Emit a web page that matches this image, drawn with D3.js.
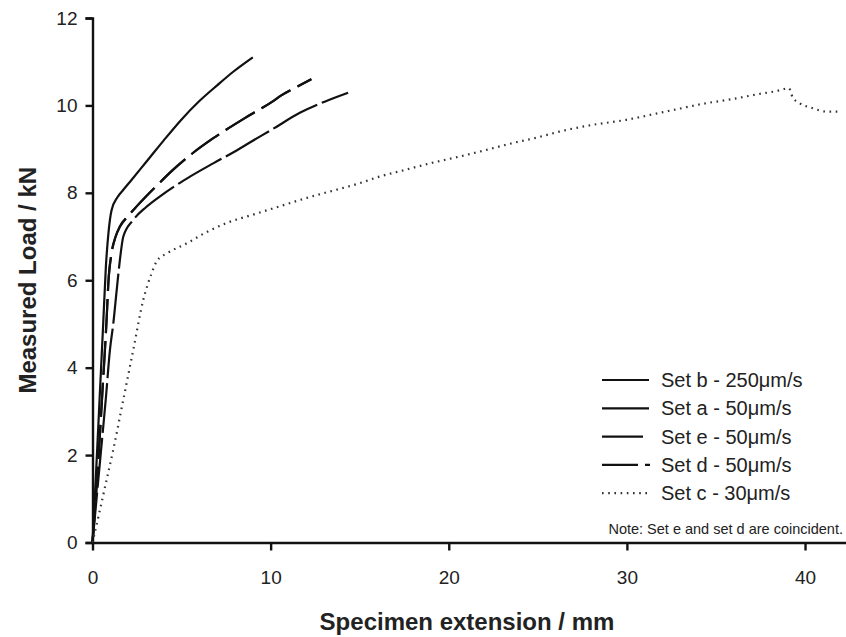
<!DOCTYPE html>
<html>
<head>
<meta charset="utf-8">
<script src="https://cdn.jsdelivr.net/npm/d3@7"></script>
<style>
  html, body { margin: 0; padding: 0; background: #fff; }
  svg { display: block; font-family: "Liberation Sans", Arial, sans-serif; }
</style>
</head>
<body>
<svg id="chart" width="846" height="637"></svg>
<script>
// Load–extension records (extension in mm, load in kN)
const extB  = [0, 0.2, 0.4, 0.6, 0.75, 0.9, 1.07, 1.4, 1.73, 2.2, 3.0, 3.5, 4.0, 5.0, 6.0, 7.0, 7.9, 9.0];
const loadB = [0, 1.6, 3.3, 5.0, 6.3, 7.1, 7.6, 7.9, 8.07, 8.3, 8.7, 8.95, 9.2, 9.68, 10.1, 10.46, 10.77, 11.1];

const extA  = [0, 0.25, 0.5, 0.75, 0.98, 1.17, 1.36, 1.54, 1.73, 2.29, 3.0, 3.79, 4.6, 5.47, 6.8, 8.09, 8.83, 10.2, 11.64, 13.0, 14.35];
const loadA = [0, 1.1, 2.2, 3.3, 4.41, 5.02, 5.78, 6.47, 7.0, 7.38, 7.67, 7.92, 8.15, 8.37, 8.68, 8.97, 9.15, 9.48, 9.83, 10.08, 10.29];

const extD  = [0, 0.3, 0.55, 0.8, 0.89, 1.07, 1.3, 1.54, 2.0, 2.48, 3.5, 4.53, 5.6, 6.78, 8.55, 10.14, 10.6, 11.5, 12.29];
const loadD = [0, 1.7, 3.4, 5.17, 5.94, 6.62, 7.0, 7.23, 7.47, 7.69, 8.12, 8.53, 8.9, 9.25, 9.71, 10.1, 10.23, 10.43, 10.6];

// Set e coincides with set d
const extE  = extD.slice();
const loadE = loadD.slice();

const extC  = [0, 0.42, 0.8, 1.17, 1.73, 2.29, 2.85, 3.32, 3.6, 4.2, 5.28, 6.3, 7.53, 9.0, 10.5, 12.0, 13.5, 15.0, 16.1, 17.5, 19.0, 20.6, 22.0, 23.5, 25.0, 26.2, 28.0, 29.96, 31.5, 33.0, 34.45, 36.0, 37.4, 38.3, 39.1, 39.3, 39.7, 40.4, 41.2, 41.9];
const loadC = [0, 0.75, 1.45, 2.13, 3.27, 4.41, 5.55, 6.16, 6.43, 6.62, 6.84, 7.08, 7.31, 7.5, 7.69, 7.88, 8.05, 8.22, 8.37, 8.52, 8.68, 8.83, 8.97, 9.13, 9.27, 9.4, 9.55, 9.67, 9.8, 9.93, 10.05, 10.15, 10.26, 10.32, 10.39, 10.19, 10.05, 9.94, 9.86, 9.86];

const legendLabels = ["Set b - 250\u03bcm/s", "Set a - 50\u03bcm/s", "Set e - 50\u03bcm/s", "Set d - 50\u03bcm/s", "Set c - 30\u03bcm/s"];
const xTicks = [0, 10, 20, 30, 40];
const yTicks = [0, 2, 4, 6, 8, 10, 12];
const xTitle = "Specimen extension / mm";
const yTitle = "Measured Load / kN";
const noteText = "Note: Set e and set d are coincident.";

const zip = (xs, ys) => xs.map((x, i) => ({ x, y: ys[i] }));

const series = [
  { key: "e", pts: zip(extE, loadE), dash: "34,8", width: 2.2 },
  { key: "d", pts: zip(extD, loadD), dash: "34,8", width: 2.2 },
  { key: "a", pts: zip(extA, loadA), dash: "50,5", width: 2.2 },
  { key: "b", pts: zip(extB, loadB), dash: null,   width: 2.2 },
  { key: "c", pts: zip(extC, loadC), dash: "1.6,4.6", width: 2.2, color: "#333" }
];

const svg = d3.select("#chart");
const x = d3.scaleLinear().domain([0, 42.3]).range([92.5, 846]);
const y = d3.scaleLinear().domain([0, 12]).range([542.5, 18]);

// Axes
const xAxis = svg.append("g")
  .attr("transform", `translate(0,${y(0)})`)
  .call(d3.axisBottom(x).tickValues(xTicks).tickSize(8).tickSizeOuter(0).tickPadding(20));
const yAxis = svg.append("g")
  .attr("transform", `translate(${x(0)},0)`)
  .call(d3.axisLeft(y).tickValues(yTicks).tickSize(7).tickSizeOuter(7).tickPadding(8));

[xAxis, yAxis].forEach(g => {
  g.select(".domain").attr("stroke", "#111").attr("stroke-width", 2.4);
  g.selectAll(".tick line").attr("stroke", "#111").attr("stroke-width", 2.4);
  g.selectAll(".tick text").attr("fill", "#222").style("font-size", "19px").style("font-family", "Liberation Sans, Arial, sans-serif");
});

// Curves
const line = d3.line().x(d => x(d.x)).y(d => y(d.y)).curve(d3.curveMonotoneX);
svg.append("g").selectAll("path")
  .data(series)
  .join("path")
  .attr("d", d => line(d.pts))
  .attr("fill", "none")
  .attr("stroke", d => d.color || "#111")
  .attr("stroke-width", d => d.width)
  .attr("stroke-linejoin", "round")
  .attr("stroke-dasharray", d => d.dash);

// Axis titles
svg.append("text")
  .attr("x", 467).attr("y", 630)
  .attr("text-anchor", "middle")
  .attr("fill", "#222")
  .style("font-size", "24px").style("font-weight", "bold")
  .text(xTitle);
svg.append("text")
  .attr("transform", `translate(36,${(y(0) + y(12)) / 2}) rotate(-90)`)
  .attr("text-anchor", "middle")
  .attr("fill", "#222")
  .style("font-size", "24px").style("font-weight", "bold")
  .text(yTitle);

// Legend
const legendSamples = [
  { len: 47, dash: null },
  { len: 47, dash: null },
  { len: 41, dash: null },
  { len: 48, dash: "36,7" },
  { len: 48, dash: "1.6,4.6", color: "#333" }
];
const lg = svg.append("g").attr("transform", "translate(602,380)");
legendLabels.forEach((lab, i) => {
  const row = lg.append("g").attr("transform", `translate(0,${i * 28.3})`);
  row.append("line")
    .attr("x1", 0).attr("x2", legendSamples[i].len)
    .attr("y1", 0).attr("y2", 0)
    .attr("stroke", legendSamples[i].color || "#111")
    .attr("stroke-width", 2.2)
    .attr("stroke-dasharray", legendSamples[i].dash);
  row.append("text")
    .attr("x", 59).attr("y", 0).attr("dy", "0.35em")
    .attr("fill", "#222")
    .style("font-size", "20px")
    .text(lab);
});

svg.append("text")
  .attr("x", 843).attr("y", 534)
  .attr("text-anchor", "end")
  .attr("fill", "#222")
  .style("font-size", "14.5px")
  .text(noteText);
</script>
</body>
</html>
